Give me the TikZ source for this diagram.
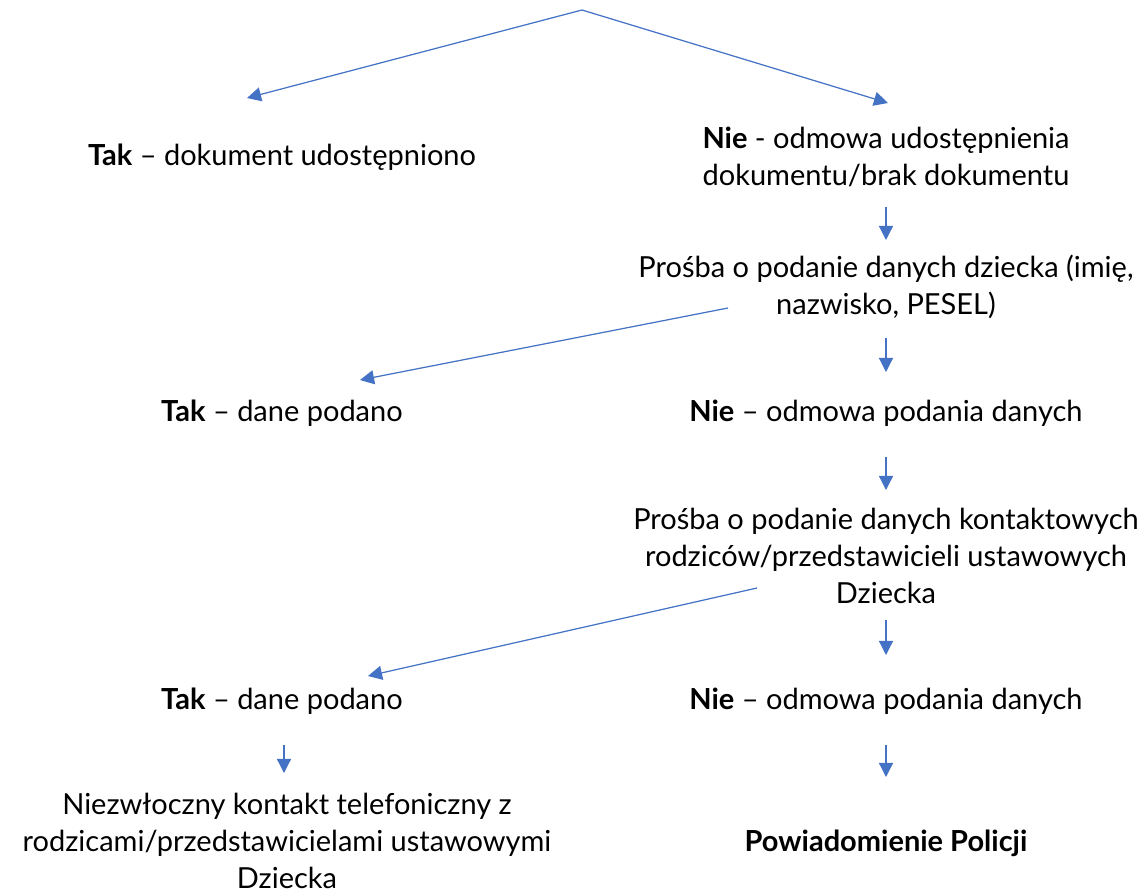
\documentclass[tikz,border=0pt]{standalone}
\usepackage{fontspec}
\setmainfont{Lato}
\usetikzlibrary{arrows.meta}
\definecolor{flowblue}{HTML}{4472C4}

\begin{document}
\begin{tikzpicture}[x=0.02cm,y=0.02cm,
  txt/.style={align=center,inner sep=0pt,font=\fontsize{16.5}{21}\selectfont},
  arr/.style={draw=flowblue,line width=0.7pt,-{Triangle[length=8pt,width=8pt]}}]
\useasboundingbox (0,0) rectangle (1144,-893);
\coordinate (top) at (582,-10);
\node (tak1) at (282,-157) [txt] {\textbf{Tak} – dokument udostępniono};
\node (nie1) at (886,-157) [txt] {\textbf{Nie} - odmowa udostępnienia\\dokumentu/brak dokumentu};
\node (prosba1) at (886,-287) [txt] {Prośba o podanie danych dziecka (imię,\\nazwisko, PESEL)};
\node (tak2) at (282,-413) [txt] {\textbf{Tak} – dane podano};
\node (nie2) at (886,-413) [txt] {\textbf{Nie} – odmowa podania danych};
\node (prosba2) at (886,-556) [txt] {Prośba o podanie danych kontaktowych\\rodziców/przedstawicieli ustawowych\\Dziecka};
\node (tak3) at (282,-701) [txt] {\textbf{Tak} – dane podano};
\node (nie3) at (886,-701) [txt] {\textbf{Nie} – odmowa podania danych};
\node (kontakt) at (287,-841) [txt] {Niezwłoczny kontakt telefoniczny z\\rodzicami/przedstawicielami ustawowymi\\Dziecka};
\node (policja) at (886,-843) [txt] {\textbf{Powiadomienie Policji}};
\draw[arr] (top) -- ([shift={(-35,59)}]tak1.center);
\draw[arr] (top) -- ([shift={(2,54)}]nie1.center);
\draw[arr] ([shift={(0,-50)}]nie1.center) -- ([shift={(0,47)}]prosba1.center);
\draw[arr] ([shift={(-158,-21)}]prosba1.center) -- ([shift={(78,33)}]tak2.center);
\draw[arr] ([shift={(0,-51)}]prosba1.center) -- ([shift={(0,41)}]nie2.center);
\draw[arr] ([shift={(0,-44)}]nie2.center) -- ([shift={(0,66)}]prosba2.center);
\draw[arr] ([shift={(-129,-32)}]prosba2.center) -- ([shift={(86,25)}]tak3.center);
\draw[arr] ([shift={(0,-64)}]prosba2.center) -- ([shift={(0,46)}]nie3.center);
\draw[arr] ([shift={(2,-44)}]tak3.center) -- ([shift={(-3,68)}]kontakt.center);
\draw[arr] ([shift={(0,-44)}]nie3.center) -- ([shift={(0,66)}]policja.center);
\end{tikzpicture}
\end{document}
